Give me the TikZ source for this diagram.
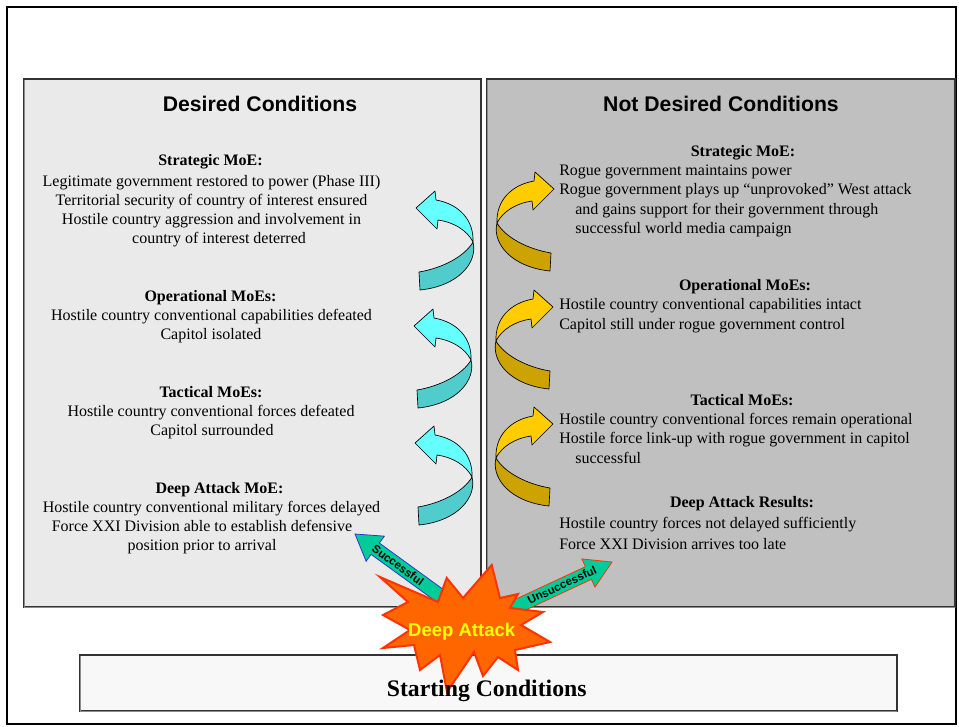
\documentclass[tikz,border=0pt]{standalone}
\usepackage{fontspec}
\setmainfont{Liberation Serif}
\newfontfamily\arialfont{Liberation Sans}
\definecolor{panelL}{HTML}{EAEAEA}
\definecolor{panelR}{HTML}{C0C0C0}
\definecolor{boxF}{HTML}{F8F8F8}
\definecolor{cyanL}{HTML}{66FFFF}
\definecolor{cyanD}{HTML}{50CCCC}
\definecolor{yelL}{HTML}{FFCC00}
\definecolor{yelD}{HTML}{CCA300}
\definecolor{starF}{HTML}{FF6600}
\definecolor{starE}{HTML}{FF3300}
\definecolor{arrF}{HTML}{00CC99}
\definecolor{arrB}{HTML}{3333CC}
\definecolor{deepY}{HTML}{FFFF00}

\tikzset{
  body/.style={inner sep=0pt, font=\fontsize{12}{14}\selectfont},
  head/.style={inner sep=0pt, font=\fontsize{12}{14}\selectfont\bfseries},
  title/.style={inner sep=0pt, font=\arialfont\bfseries\fontsize{15.9}{18}\selectfont},
  panel/.style={draw=black!80, line width=0.8pt},
  shade/.style={draw=black!45, line width=1.2pt},
  fatarrow/.style={fill=arrF, line width=0.6pt, line join=miter},
  arrlbl/.style={inner sep=0pt, font=\arialfont\bfseries\fontsize{8.6}{9}\selectfont},
  % twisted ribbon arrow: #1 upper band colour, #2 lower band colour
  pics/curl/.style 2 args={code={
    \filldraw[fill=#2, draw=black, line width=0.5pt, line join=round]
      (0,0) .. controls (5,20) and (-14,44) .. (-53,48) -- (-54,30)
      .. controls (-30,26) and (-8,14) .. (0,0) -- cycle;
    \filldraw[fill=#1, draw=black, line width=0.5pt, line join=round]
      (0,0) .. controls (1,-22) and (-14,-38) .. (-37,-42) -- (-38,-51)
      -- (-57,-34) -- (-36,-13) -- (-35,-22)
      .. controls (-20,-20) and (-6,-12) .. (0,0) -- cycle;
  }}
}

\begin{document}
\begin{tikzpicture}[x=0.75pt,y=-0.75pt]
\useasboundingbox (0,0) rectangle (959,726);

% outer frame
\draw[line width=1.5pt] (7,7) rectangle (956,724);

% condition panels, with a soft left/bottom edge
\filldraw[panel, fill=panelL] (24,79) rectangle (481,607);
\draw[shade] (24.5,79.5) -- (24.5,607.5) -- (481,607.5);
\filldraw[panel, fill=panelR] (487,79) rectangle (955,607);
\draw[shade] (487.5,79.5) -- (487.5,607.5) -- (955,607.5);

\node[title, anchor=base] (tdes) at (260,111) {Desired Conditions};
\node[title, anchor=base] (tnot) at (721,111) {Not Desired Conditions};

% desired conditions text
\node[head, anchor=base] (ls0) at (210.5,165) {Strategic MoE:};
\node[body, anchor=base] (ls1) at (211.5,186) {Legitimate government restored to power (Phase III)};
\node[body, anchor=base] (ls2) at (211.5,205) {Territorial security of country of interest ensured};
\node[body, anchor=base] (ls3) at (211.5,224) {Hostile country aggression and involvement in};
\node[body, anchor=base] (ls4) at (219,243) {country of interest deterred};

\node[head, anchor=base] (lo0) at (210.5,301) {Operational MoEs:};
\node[body, anchor=base] (lo1) at (211.5,320) {Hostile country conventional capabilities defeated};
\node[body, anchor=base] (lo2) at (211,339) {Capitol isolated};

\node[head, anchor=base] (lt0) at (211,397) {Tactical MoEs:};
\node[body, anchor=base] (lt1) at (211,416) {Hostile country conventional forces defeated};
\node[body, anchor=base] (lt2) at (212,435) {Capitol surrounded};

\node[head, anchor=base] (ld0) at (219.5,493) {Deep Attack MoE:};
\node[body, anchor=base] (ld1) at (211.5,512) {Hostile country conventional military forces delayed};
\node[body, anchor=base] (ld2) at (202,531) {Force XXI Division able to establish defensive};
\node[body, anchor=base] (ld3) at (202,550) {position prior to arrival};

% not desired conditions text
\node[head, anchor=base] (rs0) at (743,156) {Strategic MoE:};
\node[body, anchor=base west] (rs1) at (559,175) {Rogue government maintains power};
\node[body, anchor=base west] (rs2) at (559,194) {Rogue government plays up “unprovoked” West attack};
\node[body, anchor=base west] (rs3) at (575,214) {and gains support for their government through};
\node[body, anchor=base west] (rs4) at (575,233) {successful world media campaign};

\node[head, anchor=base] (ro0) at (745,290) {Operational MoEs:};
\node[body, anchor=base west] (ro1) at (559,309) {Hostile country conventional capabilities intact};
\node[body, anchor=base west] (ro2) at (559,329) {Capitol still under rogue government control};

\node[head, anchor=base] (rt0) at (742,405) {Tactical MoEs:};
\node[body, anchor=base west] (rt1) at (559,424) {Hostile country conventional forces remain operational};
\node[body, anchor=base west] (rt2) at (559,443) {Hostile force link-up with rogue government in capitol};
\node[body, anchor=base west] (rt3) at (575,463) {successful};

\node[head, anchor=base] (rd0) at (742,507) {Deep Attack Results:};
\node[body, anchor=base west] (rd1) at (559,528) {Hostile country forces not delayed sufficiently};
\node[body, anchor=base west] (rd2) at (559,549) {Force XXI Division arrives too late};

% ribbon arrows between levels
\pic at (473,242) {curl={cyanL}{cyanD}};
\pic at (471,360) {curl={cyanL}{cyanD}};
\pic at (472,477) {curl={cyanL}{cyanD}};
\pic[xscale=-1] at (497,223) {curl={yelL}{yelD}};
\pic[xscale=-1] at (496,341) {curl={yelL}{yelD}};
\pic[xscale=-1] at (496,458) {curl={yelL}{yelD}};

% starting conditions box
\filldraw[panel, fill=boxF] (80,655) rectangle (897,711);
\draw[shade] (80.5,655.5) -- (80.5,711.5) -- (897,711.5);

% outcome arrows
\begin{scope}[shift={(355,534)}, rotate=144]
  \filldraw[fatarrow, draw=arrB] (0,0) -- (-25,15.5) -- (-25,7) -- (-118,7)
    -- (-118,-7) -- (-25,-7) -- (-25,-15.5) -- cycle;
\end{scope}
\begin{scope}[shift={(612,562)}, rotate=25]
  \filldraw[fatarrow, draw=starE] (0,0) -- (-26,15.5) -- (-26,7) -- (-110,7)
    -- (-110,-7) -- (-26,-7) -- (-26,-15.5) -- cycle;
\end{scope}
\node[arrlbl, rotate=-36] (succ) at (398,565) {Successful};
\node[arrlbl, rotate=25] (unsucc) at (562,585) {Unsuccessful};

% deep attack burst
\filldraw[fill=starF, draw=starE, line width=1.5pt, line join=miter]
  (491.7,565) -- (500,598) -- (518,594) -- (510,608) -- (543,612)
  -- (521,625) -- (550,642) -- (515,650) -- (518,670) -- (498,657)
  -- (483,676) -- (474,652) -- (447,692) -- (440,655) -- (420,670)
  -- (414,645) -- (383,648) -- (410,630) -- (383,615) -- (408,602)
  -- (380,577) -- (438,602) -- (446.7,578) -- (463,598) -- cycle;
\node[inner sep=0pt, anchor=base, text=deepY,
  font=\arialfont\bfseries\fontsize{13.9}{16}\selectfont] (deep) at (461.7,636.5) {Deep Attack};

\node[inner sep=0pt, anchor=base, font=\bfseries\fontsize{17.8}{20}\selectfont]
  (start) at (486.7,696.5) {Starting Conditions};
\end{tikzpicture}
\end{document}
